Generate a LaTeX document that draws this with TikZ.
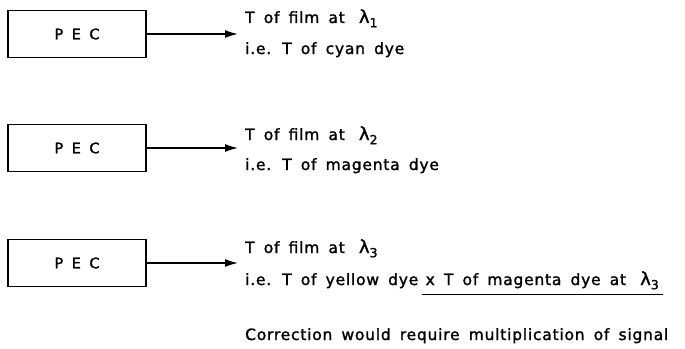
\documentclass[tikz,border=0pt]{standalone}
\usepackage{fontspec}
\usetikzlibrary{arrows.meta}
\newfontfamily\lettering[LetterSpace=5,WordSpace=1.6,FakeBold=1.5]{DejaVu Sans}
\newcommand{\lam}[1]{\hspace{5pt}{\fontsize{18}{18}\selectfont λ}\raisebox{-0.5ex}{\fontsize{12.5}{13}\selectfont #1}}

\begin{document}
\begin{tikzpicture}[x=1pt,y=-1pt,
    >={Latex[length=13pt,width=8pt]},
    pec/.style={draw,line width=1.7pt,minimum width=138pt,minimum height=47pt,inner sep=0pt,font=\lettering\fontsize{14.5}{16}\selectfont},
    feed/.style={->,line width=1.5pt},
    txt/.style={anchor=base west,inner sep=0pt,font=\lettering\fontsize{15.5}{18}\selectfont},
    underl/.style={line width=1.6pt},
]
\useasboundingbox (0,0) rectangle (685,348);

% text column starts right of the arrow tips (x=238)
\def\tx{245}

% ================= the three PEC channels =================
\foreach \yc/\n in {34/1,148/2,263/3} {
  \node[pec] (pec\n) at (77,\yc) {P E C};
  \coordinate (tip\n) at (238,\yc);
  \draw[feed] (pec\n.east) -- (tip\n);
}

% ================= channel read-outs =================
\node[txt] (r1a) at (\tx,23) {T of film at \lam{1}};
\node[txt] (r1b) at (\tx,54) {i.e. T of cyan dye};
\node[txt] (r2a) at (\tx,140) {T of film at \lam{2}};
\node[txt] (r2b) at (\tx,170) {i.e. T of magenta dye};
\node[txt] (r3a) at (\tx,253) {T of film at \lam{3}};
\node[txt] (r3b) at (\tx,285) {i.e. T of yellow dye};
\node[txt,xshift=7pt] (r3c) at (r3b.base east) {x T of magenta dye at \lam{3}};
\draw[underl] ([xshift=-3pt,yshift=-5pt]r3c.south west) -- ([xshift=4pt,yshift=-5pt]r3c.south east);

\node[txt] (corr) at (\tx,340) {Correction would require multiplication of signal};

\end{tikzpicture}
\end{document}
